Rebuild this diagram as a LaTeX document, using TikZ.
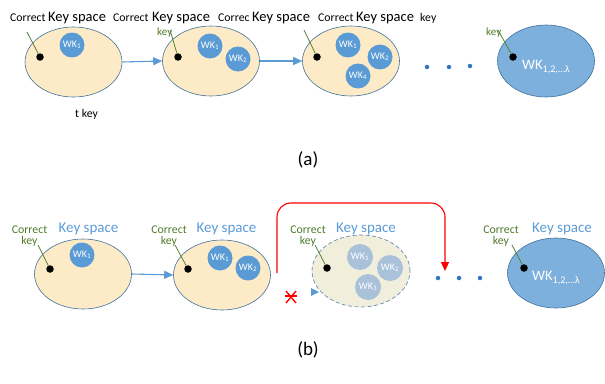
\documentclass[tikz,border=0pt]{standalone}
\usepackage{fontspec}
\setmainfont{Carlito}
\usetikzlibrary{shapes.geometric,arrows.meta,calc}
\definecolor{cream}{HTML}{FCEBC6}
\definecolor{fadecream}{HTML}{F1EEDC}
\definecolor{edgeblue}{HTML}{41719C}
\definecolor{wkblue}{HTML}{5B9BD5}
\definecolor{dotblue}{HTML}{2E75C6}
\definecolor{fadeblue}{HTML}{A9C2DA}
\definecolor{bigblue}{HTML}{7EB0DE}
\definecolor{keygreen}{HTML}{4F7A28}
\definecolor{linegreen}{HTML}{548235}
\tikzset{
  space/.style={ellipse, draw=edgeblue, line width=0.6pt, fill=cream, minimum width=97pt, minimum height=70pt, inner sep=0pt},
  fadespace/.style={ellipse, draw=edgeblue!80, dashed, dash pattern=on 4pt off 2.5pt, line width=0.7pt, fill=fadecream, minimum width=98pt, minimum height=72pt, inner sep=0pt},
  bigspace/.style={ellipse, draw=edgeblue, line width=0.6pt, fill=bigblue, minimum width=97pt, minimum height=72pt, inner sep=0pt},
  wk/.style={circle, fill=wkblue, text=white, minimum size=25pt, inner sep=0pt, font=\fontsize{10}{10}\selectfont},
  fadewk/.style={circle, fill=fadeblue, text=white, minimum size=26pt, inner sep=0pt, font=\fontsize{10}{10}\selectfont},
  keydot/.style={circle, fill=black, minimum size=7.5pt, inner sep=0pt},
  smalldot/.style={circle, fill=dotblue, minimum size=4.5pt, inner sep=0pt},
  keyline/.style={draw=linegreen, line width=0.8pt},
  flow/.style={draw=wkblue, line width=1.1pt, -{Triangle[length=9pt,width=8pt]}},
  bigtxt/.style={font=\fontsize{14.5}{16}\selectfont, inner sep=0pt, anchor=base west},
  smalltxt/.style={font=\fontsize{11.8}{12}\selectfont, inner sep=0pt, anchor=base west},
  greenkey/.style={font=\fontsize{11}{11}\selectfont, text=keygreen, inner sep=0pt, anchor=base west},
  ckey/.style={font=\fontsize{11.8}{12.5}\selectfont, text=keygreen, inner sep=0pt, align=center},
  kspace/.style={font=\fontsize{15}{16}\selectfont, text=wkblue, inner sep=0pt},
  captxt/.style={font=\fontsize{19}{20}\selectfont, inner sep=0pt}
}
\begin{document}
\begin{tikzpicture}[x=1pt,y=-1pt]
\useasboundingbox (0,0) rectangle (605,383);
% ---------- (a) ----------
\node[smalltxt] (t1) at (10,21) {Correct};
\node[bigtxt] (t2) at (48,21) {Key space};
\node[smalltxt] (t3) at (113,21) {Correct};
\node[bigtxt] (t4) at (152,21) {Key space};
\node[smalltxt] (t5) at (218,21) {Correc};
\node[bigtxt] (t6) at (252,21) {Key space};
\node[smalltxt] (t7) at (318,21) {Correct};
\node[bigtxt] (t8) at (356,21) {Key space};
\node[smalltxt] (t9) at (420,21) {key};

\node[space] (a1) at (73.5,62) {};
\node[space] (a2) at (211,61) {};
\node[space] (a3) at (351,61) {};
\node[bigspace] (a4) at (546,61) {};

\node[wk] (a1w1) at (72,45) {WK\textsubscript{1}};
\node[wk] (a2w1) at (210,46) {WK\textsubscript{1}};
\node[wk] (a2w2) at (238,59) {WK\textsubscript{2}};
\node[wk] (a3w1) at (348,45) {WK\textsubscript{1}};
\node[wk] (a3w2) at (380,57) {WK\textsubscript{2}};
\node[wk] (a3w3) at (358,76) {WK\textsubscript{4}};
\node[text=white, font=\fontsize{14.5}{16}\selectfont, inner sep=0pt, anchor=west] (a4w) at (522,67) {WK\textsubscript{1,2,\dots λ}};

\node[keydot] (a1d) at (40,57) {};
\node[keydot] (a2d) at (178,57) {};
\node[keydot] (a3d) at (317,57) {};
\node[keydot] (a4d) at (513,57) {};
\coordinate (a1k) at (27,32);
\coordinate (a2k) at (170,30);
\coordinate (a3k) at (304,30);
\coordinate (a4k) at (498,30);
\draw[keyline] (a1k) -- (a1d);
\draw[keyline] (a2k) -- (a2d);
\draw[keyline] (a3k) -- (a3d);
\draw[keyline] (a4k) -- (a4d);
\node[greenkey] (a2kl) at (157,35) {key};
\node[greenkey] (a4kl) at (486,35) {key};

\draw[flow] (a1.east) -- (a2.west);
\draw[flow] (a2.east) -- (a3.west);

\node[smalldot] (ad1) at (427,67) {};
\node[smalldot] (ad2) at (449,67) {};
\node[smalldot] (ad3) at (470,66) {};

\node[smalltxt] (tkey) at (75,117) {t key};
\node[captxt] (capa) at (308,160) {(a)};

% ---------- (b) ----------
\node[space] (b1) at (83,274) {};
\node[space] (b2) at (222,275) {};
\node[fadespace] (b3) at (361,271) {};
\node[bigspace, minimum height=70pt] (b4) at (556,273) {};

\node[ckey] (b1c) at (29.5,236) {Correct\\[-2pt]key};
\node[ckey] (b2c) at (169,236) {Correct\\[-2pt]key};
\node[ckey] (b3c) at (308,236) {Correct\\[-2pt]key};
\node[ckey] (b4c) at (501,236) {Correct\\[-2pt]key};
\node[kspace] (b1s) at (88.5,229) {Key space};
\node[kspace] (b2s) at (226.5,229) {Key space};
\node[kspace] (b3s) at (366,229) {Key space};
\node[kspace] (b4s) at (562,229) {Key space};

\node[wk] (b1w1) at (82,255) {WK\textsubscript{1}};
\node[wk] (b2w1) at (220,258) {WK\textsubscript{1}};
\node[wk] (b2w2) at (248,268) {WK\textsubscript{2}};
\node[fadewk] (b3w1) at (360,257) {WK\textsubscript{1}};
\node[fadewk] (b3w2) at (390,268) {WK\textsubscript{2}};
\node[fadewk] (b3w3) at (368,287) {WK\textsubscript{3}};
\node[text=white, font=\fontsize{14.5}{16}\selectfont, inner sep=0pt, anchor=west] (b4w) at (532,278) {WK\textsubscript{1,2,\dots λ}};

\node[keydot] (b1d) at (50,269) {};
\node[keydot] (b2d) at (188,269) {};
\node[keydot] (b3d) at (327,268) {};
\node[keydot] (b4d) at (524,268) {};
\coordinate (b1k) at (38,245);
\coordinate (b2k) at (175,245);
\coordinate (b3k) at (315,245);
\coordinate (b4k) at (512,245);
\draw[keyline] (b1k) -- (b1d);
\draw[keyline] (b2k) -- (b2d);
\draw[keyline] (b3k) -- (b3d);
\draw[keyline] (b4k) -- (b4d);

\draw[flow] (b1.east) -- (b2.west);

\node[smalldot] (bd1) at (438,278) {};
\node[smalldot] (bd2) at (459,278) {};
\node[smalldot] (bd3) at (480,278) {};

% red bypass arrow
\coordinate (rs) at (277,273);
\coordinate (re) at (445,271);
\draw[red, line width=1.1pt, rounded corners=14pt, -{Triangle[length=9pt,width=8pt]}] (rs) -- (277,203) -- (445,203) -- (re);

% crossed-out link
\coordinate (xc) at (291,297);
\draw[red, line width=1.4pt] ($(xc)+(-5,-6)$) -- ($(xc)+(5,6)$) ($(xc)+(5,-6)$) -- ($(xc)+(-5,6)$);
\draw[red, line width=1.4pt] ($(xc)+(-6,-1)$) -- ($(xc)+(6,-1)$);
\coordinate (bt) at (319,292);
\fill[wkblue] (bt) -- ++(-8,-4) -- ++(0,8) -- cycle;

\node[captxt] (capb) at (308,350) {(b)};
\end{tikzpicture}
\end{document}
